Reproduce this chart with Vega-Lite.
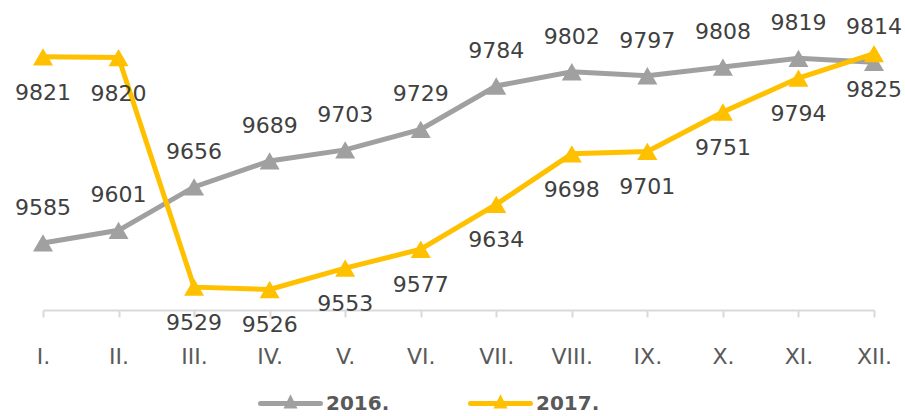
{
  "$schema": "https://vega.github.io/schema/vega-lite/v6.json",
  "width": 831,
  "height": 310,
  "autosize": "none",
  "padding": {"left": 43, "top": 0, "right": 31, "bottom": 106},
  "background": "white",
  "config": {"view": {"stroke": null}},
  "data": {"values": [
    {"month": "I.", "year": "2016.", "value": 9585},
    {"month": "II.", "year": "2016.", "value": 9601},
    {"month": "III.", "year": "2016.", "value": 9656},
    {"month": "IV.", "year": "2016.", "value": 9689},
    {"month": "V.", "year": "2016.", "value": 9703},
    {"month": "VI.", "year": "2016.", "value": 9729},
    {"month": "VII.", "year": "2016.", "value": 9784},
    {"month": "VIII.", "year": "2016.", "value": 9802},
    {"month": "IX.", "year": "2016.", "value": 9797},
    {"month": "X.", "year": "2016.", "value": 9808},
    {"month": "XI.", "year": "2016.", "value": 9819},
    {"month": "XII.", "year": "2016.", "value": 9814},
    {"month": "I.", "year": "2017.", "value": 9821},
    {"month": "II.", "year": "2017.", "value": 9820},
    {"month": "III.", "year": "2017.", "value": 9529},
    {"month": "IV.", "year": "2017.", "value": 9526},
    {"month": "V.", "year": "2017.", "value": 9553},
    {"month": "VI.", "year": "2017.", "value": 9577},
    {"month": "VII.", "year": "2017.", "value": 9634},
    {"month": "VIII.", "year": "2017.", "value": 9698},
    {"month": "IX.", "year": "2017.", "value": 9701},
    {"month": "X.", "year": "2017.", "value": 9751},
    {"month": "XI.", "year": "2017.", "value": 9794},
    {"month": "XII.", "year": "2017.", "value": 9825}
  ]},
  "encoding": {
    "x": {
      "field": "month", "type": "ordinal",
      "sort": ["I.", "II.", "III.", "IV.", "V.", "VI.", "VII.", "VIII.", "IX.", "X.", "XI.", "XII."],
      "scale": {"type": "point", "padding": 0},
      "axis": {
        "title": null, "labelAngle": 0,
        "domainColor": "#d9d9d9", "domainWidth": 2,
        "tickColor": "#d9d9d9", "tickWidth": 2, "tickSize": 7,
        "labelFont": "DejaVu Sans", "labelFontSize": 22, "labelColor": "#595959",
        "labelPadding": 29, "grid": false
      }
    },
    "y": {
      "field": "value", "type": "quantitative",
      "scale": {"domain": [9500, 9893], "zero": false, "nice": false},
      "axis": null
    }
  },
  "layer": [
    {
      "mark": {"type": "line", "strokeWidth": 5},
      "encoding": {
        "color": {
          "field": "year", "type": "nominal",
          "scale": {"domain": ["2016.", "2017."], "range": ["#A0A0A0", "#FFC000"]},
          "legend": {
            "title": null, "orient": "none", "direction": "horizontal",
            "legendX": 215, "legendY": 371,
            "symbolType": "M-1,0H1M-0.1,0.08L0,-0.12L0.1,0.08Z",
            "symbolSize": 3600, "symbolStrokeWidth": 5,
            "labelFont": "DejaVu Sans", "labelFontSize": 20, "labelFontWeight": "bold",
            "labelColor": "#595959", "labelOffset": 3, "columnPadding": 70,
            "encode": {"symbols": {"update": {"fill": {"scale": "color", "field": "value"}, "strokeCap": {"value": "round"}}}}
          }
        }
      }
    },
    {
      "mark": {"type": "point", "shape": "triangle-up", "filled": true, "size": 400, "opacity": 1},
      "encoding": {
        "color": {"field": "year", "type": "nominal"}
      }
    },
    {
      "transform": [{"filter": "datum.year === '2016.'"}],
      "mark": {"type": "text", "dy": -35, "font": "DejaVu Sans", "fontSize": 22, "color": "#404040"},
      "encoding": {"text": {"field": "value", "type": "quantitative", "format": "d"}}
    },
    {
      "transform": [{"filter": "datum.year === '2017.'"}],
      "mark": {"type": "text", "dy": 36, "font": "DejaVu Sans", "fontSize": 22, "color": "#404040"},
      "encoding": {"text": {"field": "value", "type": "quantitative", "format": "d"}}
    }
  ]
}
